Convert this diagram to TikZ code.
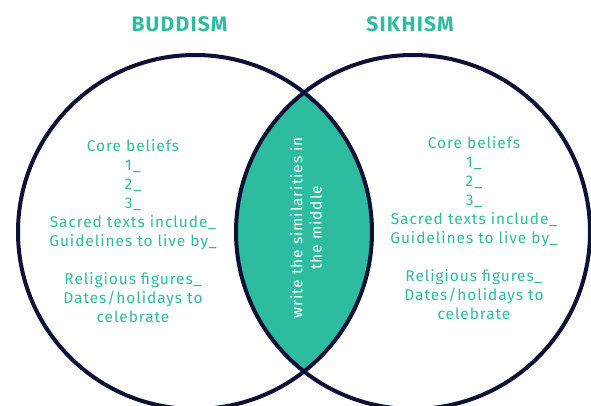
\documentclass[tikz,border=0pt]{standalone}
\usepackage{fontspec}
\setmainfont{Fira Sans}[LetterSpace=6]
\usepackage{tikz}
\usetikzlibrary{positioning}
\definecolor{venngreen}{RGB}{46,188,160}
\definecolor{ringnavy}{RGB}{14,16,53}

\begin{document}
\begin{tikzpicture}[x=1pt, y=-1pt,
    ring/.style={draw=ringnavy, line width=4pt},
    title/.style={text=venngreen, font=\fontsize{21}{24}\selectfont\bfseries, anchor=base},
    notes/.style={text=venngreen, font=\fontsize{15.5}{19.1}\selectfont, align=center, inner sep=0pt},
    middle/.style={text=white, font=\fontsize{15.5}{19.3}\selectfont, align=center, rotate=90, inner sep=0pt}]

    \useasboundingbox (0,0) rectangle (591,406);
    \coordinate (bcentre) at (195,232);
    \coordinate (scentre) at (413,232);

    % overlap
    \begin{scope}
        \clip (bcentre) circle[radius=177pt];
        \fill[venngreen] (scentre) circle[radius=177pt];
    \end{scope}
    \draw[ring] (bcentre) circle[radius=177pt];
    \draw[ring] (scentre) circle[radius=177pt];

    \node[title] (buddhism) at (179.5,31.7) {BUDDISM};
    \node[title] (sikhism) at (410,31.7) {SIKHISM};

    \node[notes] (bnotes) at (133,231) {Core beliefs\\1\_\\2\_\\3\_\\Sacred texts include\_\\Guidelines to live by\_\\[19.1pt]Religious figures\_\\Dates/holidays to\\celebrate};
    \node[notes] (snotes) at (474,228) {Core beliefs\\1\_\\2\_\\3\_\\Sacred texts include\_\\Guidelines to live by\_\\[19.1pt]Religious figures\_\\Dates/holidays to\\celebrate};
    \node[middle] (similar) at (306,228) {write the similarities in\\the middle};
\end{tikzpicture}
\end{document}
